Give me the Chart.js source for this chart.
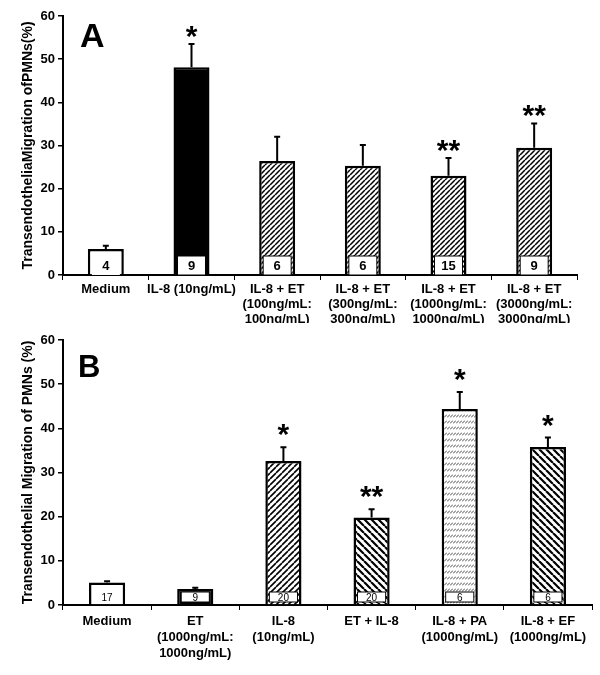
<!DOCTYPE html>
<html>
<head>
<meta charset="utf-8">
<script src="https://cdn.jsdelivr.net/npm/chart.js@4.4.1/dist/chart.umd.min.js"></script>
<style>
  body { margin: 0; background: #fff; }
  canvas { display: block; }
</style>
</head>
<body>
<canvas id="chartA" width="600" height="323"></canvas>
<canvas id="chartB" width="600" height="352"></canvas>
<script>
// panel A
const labelsA = ['Medium', 'IL-8 (10ng/mL)',
    ['IL-8 + ET', '(100ng/mL:', '100ng/mL)'],
    ['IL-8 + ET', '(300ng/mL:', '300ng/mL)'],
    ['IL-8 + ET', '(1000ng/mL:', '1000ng/mL)'],
    ['IL-8 + ET', '(3000ng/mL:', '3000ng/mL)']];
const valuesA = [6.0, 48.1, 26.4, 25.3, 23.0, 29.5];
const errorsA = [6.8, 53.5, 32.0, 30.1, 27.1, 35.1];
const countsA = ['4', '9', '6', '6', '15', '9'];
const starsA = ['', '*', '', '', '**', '**'];

// panel B
const labelsB = ['Medium',
    ['ET', '(1000ng/mL:', '1000ng/mL)'],
    ['IL-8', '(10ng/mL)'],
    'ET + IL-8',
    ['IL-8 + PA', '(1000ng/mL)'],
    ['IL-8 + EF', '(1000ng/mL)']];
const valuesB = [5.1, 3.6, 32.6, 19.8, 44.4, 35.8];
const errorsB = [5.4, 3.9, 35.7, 21.7, 48.2, 37.9];
const countsB = ['17', '9', '20', '20', '6', '6'];
const starsB = ['', '', '*', '**', '*', '*'];

const FONT = '"Liberation Sans", Arial, sans-serif';

function hatch(dir, s, lw, color) {
    const c = document.createElement('canvas');
    c.width = s; c.height = s;
    const g = c.getContext('2d');
    g.fillStyle = '#fff';
    g.fillRect(0, 0, s, s);
    g.strokeStyle = color || '#000';
    g.lineWidth = lw;
    g.beginPath();
    for (let k = -1; k <= 1; k++) {
        if (dir === '/') { g.moveTo(k * s, s); g.lineTo(k * s + s, 0); }
        else { g.moveTo(k * s, 0); g.lineTo(k * s + s, s); }
    }
    g.stroke();
    return g.createPattern(c, 'repeat');
}

// rows of small slashes (PA bar)
function dashRows() {
    const c = document.createElement('canvas');
    c.width = 3; c.height = 6;
    const g = c.getContext('2d');
    g.fillStyle = '#fff';
    g.fillRect(0, 0, 3, 6);
    g.strokeStyle = '#333';
    g.lineWidth = 0.9;
    g.beginPath();
    g.moveTo(0, 4.5); g.lineTo(3, 1.5);
    g.stroke();
    return g.createPattern(c, 'repeat');
}

function extras(errors, counts, stars, o) {
    return {
        id: 'extras',
        afterDatasetsDraw(chart) {
            const ctx = chart.ctx;
            const y = chart.scales.y;
            const ds = chart.data.datasets[0];
            const bars = chart.getDatasetMeta(0).data;
            ctx.save();
            bars.forEach((bar, i) => {
                // n box at the foot of the bar
                const bx = bar.x - bar.width / 2 + o.boxInset;
                const bw = bar.width - 2 * o.boxInset;
                const bBottom = y.bottom - o.boxLift;
                ctx.fillStyle = '#fff';
                ctx.fillRect(bx, bBottom - o.boxH, bw, o.boxH);
                if (ds.backgroundColor[i] !== '#fff') {
                    ctx.strokeStyle = '#000';
                    ctx.lineWidth = 1;
                    ctx.strokeRect(bx, bBottom - o.boxH, bw, o.boxH);
                }
                ctx.fillStyle = '#000';
                ctx.font = o.countFont;
                ctx.textAlign = 'center';
                ctx.textBaseline = 'middle';
                ctx.fillText(counts[i], bar.x, bBottom - o.boxH / 2 + 1);

                // upper error whisker
                const top = y.getPixelForValue(errors[i]);
                ctx.strokeStyle = '#000';
                ctx.lineWidth = 2;
                ctx.beginPath();
                ctx.moveTo(bar.x, bar.y);
                ctx.lineTo(bar.x, top);
                ctx.moveTo(bar.x - 3, top);
                ctx.lineTo(bar.x + 3, top);
                ctx.stroke();

                if (stars[i]) {
                    ctx.font = 'bold 30px ' + FONT;
                    ctx.textBaseline = 'alphabetic';
                    const m = ctx.measureText(stars[i]);
                    ctx.fillText(stars[i], bar.x, top - o.starGap - m.actualBoundingBoxDescent);
                }
            });
            ctx.font = o.letterFont;
            ctx.textAlign = 'left';
            ctx.textBaseline = 'alphabetic';
            ctx.fillStyle = '#000';
            ctx.fillText(o.letter, o.letterX, o.letterY);
            ctx.restore();
        }
    };
}

function makeChart(id, labels, values, fills, barPct, title, pad, xHeight, tickPad, lineH, plugin) {
    return new Chart(document.getElementById(id), {
        type: 'bar',
        data: {
            labels: labels,
            datasets: [{
                data: values,
                backgroundColor: fills,
                borderColor: '#000',
                borderWidth: 2.5,
                borderSkipped: 'bottom',
                categoryPercentage: 1,
                barPercentage: barPct
            }]
        },
        options: {
            responsive: false,
            animation: false,
            layout: { padding: pad },
            plugins: { legend: { display: false }, tooltip: { enabled: false } },
            scales: {
                x: {
                    afterFit: s => { s.height = xHeight; },
                    border: { display: true, color: '#000', width: 2 },
                    grid: { drawOnChartArea: false, drawTicks: true, tickLength: 5, color: '#000', lineWidth: 1 },
                    ticks: {
                        color: '#000', padding: tickPad, autoSkip: false, maxRotation: 0,
                        font: { family: FONT, size: 13, weight: 'bold', lineHeight: lineH }
                    }
                },
                y: {
                    min: 0, max: 60,
                    afterFit: s => { s.width = 63; },
                    border: { display: true, color: '#000', width: 2 },
                    grid: { drawOnChartArea: false, drawTicks: true, tickLength: 5, color: '#000', lineWidth: 1.5 },
                    ticks: {
                        stepSize: 10, color: '#000', padding: 3,
                        font: { family: FONT, size: 13, weight: 'bold' }
                    },
                    title: {
                        display: true, text: title, color: '#000',
                        padding: { top: 20, bottom: 0 },
                        font: { family: FONT, size: 14, weight: 'bold', lineHeight: 1.2 }
                    }
                }
            }
        },
        plugins: [plugin]
    });
}

const fillsA = ['#fff', '#000',
    hatch('/', 5, 1.5), hatch('/', 5, 1.5), hatch('/', 5, 1.5), hatch('/', 5, 1.5)];
const fillsB = ['#fff', '#000',
    hatch('/', 6, 1.6), hatch('\\', 7, 2.2), dashRows(), hatch('\\', 7, 2.2)];

makeChart('chartA', labelsA, valuesA, fillsA, 0.42,
    'TransendotheliaMigration ofPMNs(%)',
    { top: 16, right: 23, left: 0, bottom: 0 }, 48, 2, 1.15,
    extras(errorsA, countsA, starsA, {
        boxInset: 4, boxLift: 0, boxH: 19, countFont: 'bold 13px ' + FONT,
        starGap: 6, letter: 'A', letterX: 80, letterY: 47, letterFont: 'bold 34px ' + FONT
    }));

makeChart('chartB', labelsB, valuesB, fillsB, 0.41,
    'Transendothelial Migration of PMNs (%)',
    { top: 17, right: 8, left: 0, bottom: 0 }, 70, 3, 1.23,
    extras(errorsB, countsB, starsB, {
        boxInset: 4, boxLift: 3, boxH: 10, countFont: '10px ' + FONT,
        starGap: 11, letter: 'B', letterX: 78, letterY: 54, letterFont: 'bold 31px ' + FONT
    }));
</script>
</body>
</html>
